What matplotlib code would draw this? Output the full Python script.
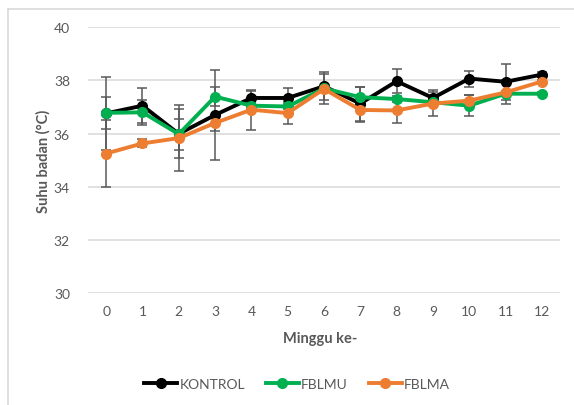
import matplotlib.pyplot as plt
from matplotlib.lines import Line2D

weeks = [0, 1, 2, 3, 4, 5, 6, 7, 8, 9, 10, 11, 12]
kontrol = [36.76, 37.05, 35.99, 36.70, 37.34, 37.34, 37.78, 37.13, 37.97, 37.34, 38.07, 37.95, 38.22]
kontrol_err = [1.37, 0.67, 0.92, 1.70, 0.25, 0.36, 0.52, 0.64, 0.46, 0.30, 0.30, 0.67, 0.08]
fblmu = [36.78, 36.80, 35.98, 37.39, 37.05, 37.02, 37.70, 37.37, 37.30, 37.18, 37.05, 37.50, 37.50]
fblmu_err = [0.60, 0.48, 0.58, 0.35, 0.10, 0.10, 0.10, 0.40, 0.10, 0.10, 0.39, 0.10, 0.05]
fblma = [35.25, 35.63, 35.83, 36.40, 36.90, 36.77, 37.68, 36.89, 36.87, 37.13, 37.24, 37.55, 37.96]
fblma_err = [1.26, 0.15, 1.25, 0.30, 0.75, 0.40, 0.55, 0.45, 0.48, 0.45, 0.20, 0.45, 0.05]
labels = ["KONTROL", "FBLMU", "FBLMA"]
colors = ["#000000", "#00B050", "#ED7D31"]
yticks = [30, 32, 34, 36, 38, 40]

plt.rcParams['font.family'] = ['Lato', 'DejaVu Sans']
fig = plt.figure(figsize=(5.74, 4.06), dpi=100)
W, H = 574, 406
ax = fig.add_axes([88 / W, 1 - 294 / H, (560 - 88) / W, (294 - 28.3) / H])

series = [(kontrol, kontrol_err), (fblmu, fblmu_err), (fblma, fblma_err)]
for (vals, errs), c, lab in zip(series, colors, labels):
    ax.errorbar(weeks, vals, yerr=errs, fmt='none', ecolor='#595959', elinewidth=1.1,
                capsize=3.5, capthick=1.1, zorder=2)
for (vals, errs), c, lab in zip(series, colors, labels):
    ax.plot(weeks, vals, color=c, lw=2.8, marker='o', ms=7, label=lab, zorder=3)

ax.set_xlim(-0.5, 12.5)
ax.set_ylim(30, 40)
ax.set_yticks(yticks)
ax.set_xticks(weeks)
ax.grid(axis='y', color='#D9D9D9', lw=1.1)
ax.set_axisbelow(True)
for s in ax.spines.values():
    s.set_visible(False)
ax.tick_params(length=0, colors='#595959', labelsize=10)
ax.tick_params(axis='y', pad=13)
ax.tick_params(axis='x', pad=9)
fig.text(320 / W, 1 - 339 / H, "Minggu ke-", fontsize=10.5, fontweight='bold',
         color='#595959', ha='center', va='center')
fig.text(43 / W, 1 - 161 / H, "Suhu badan (°C)", fontsize=10.5, fontweight='bold',
         color='#595959', ha='center', va='center', rotation=90)

handles = [Line2D([0], [0], color=c, lw=2.8, marker='o', ms=7) for c in colors]
fig.legend(handles, labels, loc='center', bbox_to_anchor=(297 / W, 1 - 385 / H), ncol=3,
           frameon=False, fontsize=10, handlelength=2.4, handletextpad=0.15,
           columnspacing=1.5, labelcolor='#595959')

fig.add_artist(Line2D([8 / W, 1], [1 - 10 / H, 1 - 10 / H], transform=fig.transFigure,
                      color='#D9D9D9', lw=1.2))
fig.add_artist(Line2D([8 / W, 8 / W], [0, 1 - 10 / H], transform=fig.transFigure,
                      color='#D9D9D9', lw=1.2))

fig.savefig("out.png", dpi=100)
